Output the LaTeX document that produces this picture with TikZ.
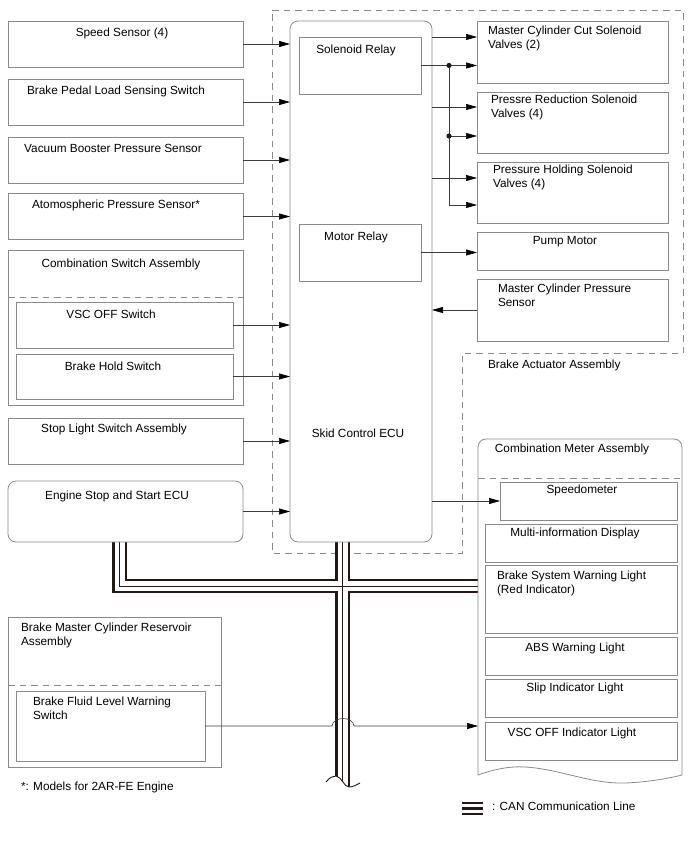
\documentclass[tikz,border=0pt]{standalone}
\usepackage{fontspec}
\setmainfont{Liberation Sans}
\usetikzlibrary{arrows.meta,calc}
\definecolor{boxgray}{HTML}{8A8A8A}
\definecolor{linegray}{HTML}{3C3C3C}
\definecolor{canblack}{HTML}{231815}
\newcommand\fsz{\fontsize{11.8}{14}\selectfont}
\begin{document}
\begin{tikzpicture}[x=1pt,y=-1pt,
  box/.style={draw=boxgray, line width=0.8pt, inner sep=0pt, outer sep=0pt, rectangle},
  rbox/.style={box, rounded corners=8pt},
  lbl/.style={inner sep=0pt, outer sep=0pt, anchor=base, font=\fsz},
  lblw/.style={inner sep=0pt, outer sep=0pt, anchor=north west, align=left, font=\fsz},
  conn/.style={draw=linegray, line width=0.6pt},
  arr/.style={conn, -{Triangle[length=11pt,width=6pt,color=black]}},
  dashbox/.style={draw=boxgray, line width=0.8pt, dash pattern=on 6.5pt off 5pt},
  canbus/.style={preaction={draw=canblack,line width=14.5pt}, preaction={draw=white,line width=10pt}, draw=canblack, line width=0.8pt}
]
\useasboundingbox[fill=white] (0,0) rectangle (688,852);

% Brake actuator assembly dashed outline
\draw[dashbox] (272,10) -- (683,10) -- (683,353) -- (462,353) -- (462,553) -- (272,553) -- cycle;
\node[lbl, anchor=base west] (bactl) at (488,368) {Brake Actuator Assembly};

% CAN bus
\path[canbus] (119.5,542) -- (119.5,586) -- (478,586) (342.5,542) -- (342.5,792);
\fill[white] (318,783) -- (326,782) .. controls (330,777) and (333,776) .. (336,776) .. controls (342,777) and (344,787) .. (349,787) .. controls (353,787) and (356,785) .. (360,783) -- (366,783) -- (366,800) -- (318,800) -- cycle;
\draw[canblack, line width=0.9pt] (326,782) .. controls (330,777) and (333,776) .. (336,776) .. controls (342,777) and (344,787) .. (349,787) .. controls (353,787) and (356,785) .. (360,783);

% Left column
\node[box, minimum width=235pt, minimum height=46pt] (spd) at (125.5,44) {};
\node[lbl] (spdt) at (122,36.7) {Speed Sensor (4)};
\node[box, minimum width=235pt, minimum height=46pt] (bpl) at (125.5,102) {};
\node[lbl] (bplt) at (116,94) {Brake Pedal Load Sensing Switch};
\node[box, minimum width=235pt, minimum height=46pt] (vbp) at (125.5,160) {};
\node[lbl] (vbpt) at (113,152) {Vacuum Booster Pressure Sensor};
\node[box, minimum width=235pt, minimum height=46pt] (atm) at (125.5,216.5) {};
\node[lbl] (atmt) at (116,208) {Atomospheric Pressure Sensor*};

\node[box, minimum width=235pt, minimum height=155pt] (csa) at (125.5,327.5) {};
\node[lbl] (csat) at (121,267) {Combination Switch Assembly};
\draw[dashbox] (8,297) -- (243,297);
\node[box, minimum width=217pt, minimum height=46pt] (vsc) at (124.5,325) {};
\node[lbl] (vsct) at (111,318) {VSC OFF Switch};
\node[box, minimum width=217pt, minimum height=45pt] (bhs) at (124.5,376.5) {};
\node[lbl] (bhst) at (113,370) {Brake Hold Switch};

\node[box, minimum width=235pt, minimum height=46pt] (sls) at (125.5,441) {};
\node[lbl] (slst) at (114,432) {Stop Light Switch Assembly};
\node[rbox, minimum width=235pt, minimum height=61pt] (ess) at (125.5,511.5) {};
\node[lbl] (esst) at (117,499) {Engine Stop and Start ECU};

% Skid control ECU
\node[rbox, minimum width=142pt, minimum height=521pt] (ecu) at (361,281.5) {};
\node[lbl] (ecut) at (358,437) {Skid Control ECU};
\node[box, minimum width=122pt, minimum height=57pt] (sr) at (360,65.5) {};
\node[lbl] (srt) at (356,53.5) {Solenoid Relay};
\node[box, minimum width=122pt, minimum height=57pt] (mr) at (360,252.5) {};
\node[lbl] (mrt) at (356,240) {Motor Relay};

% Right column
\node[box, minimum width=191pt, minimum height=62pt] (mcc) at (572.5,52) {};
\node[lblw] (mcct) at (488,25.7) {Master Cylinder Cut Solenoid\\Valves (2)};
\node[box, minimum width=191pt, minimum height=61pt] (prs) at (572.5,122.5) {};
\node[lblw] (prst) at (491,94.7) {Pressre Reduction Solenoid\\Valves (4)};
\node[box, minimum width=191pt, minimum height=61pt] (phs) at (572.5,192.5) {};
\node[lblw] (phst) at (493,165.4) {Pressure Holding Solenoid\\Valves (4)};
\node[box, minimum width=191pt, minimum height=38pt] (pm) at (572.5,251) {};
\node[lbl] (pmt) at (565,244) {Pump Motor};
\node[box, minimum width=191pt, minimum height=62pt] (mcp) at (572.5,310) {};
\node[lblw] (mcpt) at (498,284.4) {Master Cylinder Pressure\\Sensor};

% Combination meter assembly
\draw[draw=boxgray, line width=0.8pt, rounded corners=8pt] (478,775) -- (478,439) -- (682,439) -- (682,775);
\draw[draw=boxgray, line width=0.8pt] (478,775) .. controls (495,769) and (510,766) .. (525,767) .. controls (560,769) and (590,784) .. (625,783) .. controls (650,782) and (670,778) .. (682,775);
\coordinate (cmL) at (478,726);
\node[lbl] (cmat) at (572,452) {Combination Meter Assembly};
\draw[dashbox] (478,478) -- (682,478);
\node[box, minimum width=177pt, minimum height=38pt] (spdm) at (588.5,501) {};
\node[lbl] (spdmt) at (582,493) {Speedometer};
\node[box, minimum width=192pt, minimum height=38pt] (mid) at (581,543) {};
\node[lbl] (midt) at (575,536) {Multi-information Display};
\node[box, minimum width=192pt, minimum height=68pt] (bsw) at (581,599) {};
\node[lblw] (bswt) at (497,571.4) {Brake System Warning Light\\(Red Indicator)};
\node[box, minimum width=192pt, minimum height=38pt] (abs) at (581,656) {};
\node[lbl] (abst) at (575,651) {ABS Warning Light};
\node[box, minimum width=192pt, minimum height=38pt] (slip) at (581,698) {};
\node[lbl] (slipt) at (575,691) {Slip Indicator Light};
\node[box, minimum width=192pt, minimum height=38pt] (vsci) at (581,741) {};
\node[lbl] (vscit) at (572,736) {VSC OFF Indicator Light};

% Reservoir
\node[box, minimum width=213pt, minimum height=150pt] (bmc) at (114.5,692) {};
\node[lblw] (bmct) at (21,623.4) {Brake Master Cylinder Reservoir\\Assembly};
\draw[dashbox] (8,685) -- (221,685);
\node[box, minimum width=189pt, minimum height=70pt] (bfl) at (110.5,726) {};
\node[lblw] (bflt) at (33,697.4) {Brake Fluid Level Warning\\Switch};

% Left arrows into ECU
\foreach \n in {spd,bpl,vbp,atm,vsc,bhs,sls,ess}
  \draw[arr] (\n.east) -- (\n.east -| ecu.west);

% Right arrows
\draw[arr] (ecu.east |- 0,37) -- (mcc.west |- 0,37);
\coordinate (j1) at (449,65.5);
\coordinate (j2) at (449,136);
\coordinate (j3) at (449,205);
\draw[arr] (sr.east) -- (sr.east -| mcc.west);
\draw[conn] (j1) -- (j3);
\draw[arr] (j2) -- (j2 -| prs.west);
\draw[arr] (j3) -- (j3 -| phs.west);
\fill[canblack] (j1) circle (2.6pt) (j2) circle (2.6pt);
\draw[arr] (ecu.east |- 0,107) -- (prs.west |- 0,107);
\draw[arr] (ecu.east |- 0,178) -- (phs.west |- 0,178);
\draw[arr] (mr.east) -- (mr.east -| pm.west);
\draw[arr] (mcp.west) -- (mcp.west -| ecu.east);
\draw[arr] (spdm.west -| ecu.east) -- (spdm.west);

% Fluid level line with hop over CAN bus
\draw[arr] (bfl.east) -- (332,726) .. controls (333,716) and (353,716) .. (354,726) -- (cmL);

% Footnote and legend
\node[lbl, anchor=base west] (note) at (21,790) {*: Models for 2AR-FE Engine};
\coordinate (lg1) at (462,803);
\coordinate (lg2) at (462,808.5);
\coordinate (lg3) at (462,814);
\draw[canblack, line width=2.6pt] (lg1) -- ++(21,0) (lg2) -- ++(21,0) (lg3) -- ++(21,0);
\node[lbl, anchor=base west] (lgt) at (492,810) {: CAN Communication Line};
\end{tikzpicture}
\end{document}
